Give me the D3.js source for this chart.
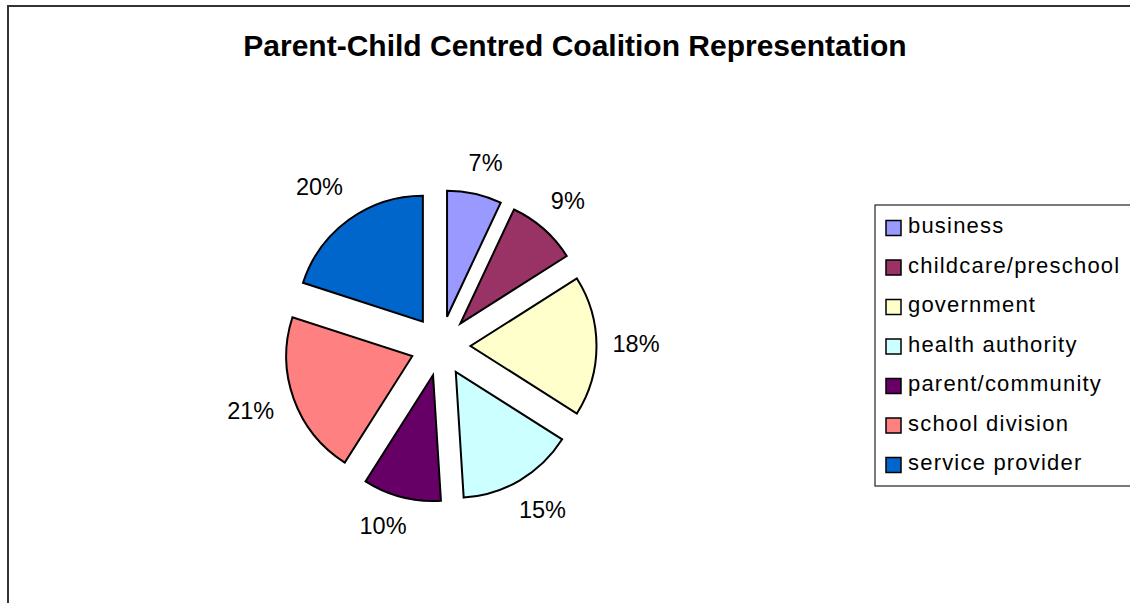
<!DOCTYPE html>
<html>
<head>
<meta charset="utf-8">
<script src="https://cdn.jsdelivr.net/npm/d3@7"></script>
<style>
  html, body { margin: 0; padding: 0; background: #fff; }
  svg { display: block; }
  text { font-family: "Liberation Sans", Arial, sans-serif; }
</style>
</head>
<body>
<svg id="chart" width="1130" height="603"></svg>
<script>
// Share of coalition members by sector (percent)
const categories = ["business", "childcare/preschool", "government", "health authority",
                    "parent/community", "school division", "service provider"];
const shares = [7, 9, 18, 15, 10, 21, 20];
const sliceColors = ["#9999FF", "#993366", "#FFFFCC", "#CCFFFF", "#660066", "#FF8080", "#0066CC"];
const chartTitle = "Parent-Child Centred Coalition Representation";

const W = 1130, H = 603;
const svg = d3.select("#chart");

// outer chart frame (runs off the right and bottom edges)
svg.append("rect")
  .attr("x", 8).attr("y", 6)
  .attr("width", W + 20).attr("height", H + 20)
  .attr("fill", "#fff")
  .attr("stroke", "#333").attr("stroke-width", 2);

// title
svg.append("text")
  .attr("x", 575).attr("y", 56)
  .attr("text-anchor", "middle")
  .attr("font-size", 30).attr("font-weight", "bold")
  .attr("fill", "#000")
  .text(chartTitle);

// exploded pie, clockwise from 12 o'clock
const cx = 440.5, cy = 346;
const radius = 126, explode = 30, labelGap = 174;

const data = categories.map((c, i) => ({ name: c, value: shares[i], color: sliceColors[i] }));
const pie = d3.pie().value(d => d.value).sort(null);
const arcs = pie(data);
const arc = d3.arc().innerRadius(0).outerRadius(radius);
const mid = d => (d.startAngle + d.endAngle) / 2;

const g = svg.append("g").attr("transform", `translate(${cx},${cy})`);

g.selectAll("path.slice")
  .data(arcs)
  .join("path")
  .attr("class", "slice")
  .attr("transform", d => `translate(${explode * Math.sin(mid(d))},${-explode * Math.cos(mid(d))})`)
  .attr("d", arc)
  .attr("fill", d => d.data.color)
  .attr("stroke", "#000")
  .attr("stroke-width", 2)
  .attr("stroke-linejoin", "miter");

// percentage labels: the label box sits just outside the slice along its
// mid-angle; labels near the top/bottom are nudged away from the vertical axis
const labels = g.selectAll("text.pct")
  .data(arcs)
  .join("text")
  .attr("class", "pct")
  .attr("text-anchor", "middle")
  .attr("dominant-baseline", "central")
  .attr("font-size", 23.5)
  .attr("fill", "#000")
  .text(d => d.data.value + "%");

labels.each(function(d) {
  const a = mid(d);
  const s = Math.sin(a), c = Math.cos(a);
  const hw = this.getComputedTextLength() / 2, hh = 8;
  const r = labelGap + hw * Math.abs(s) + hh * Math.abs(c);
  const push = Math.sign(s) * hw * 0.5 * (1 - Math.abs(s));
  d3.select(this)
    .attr("x", r * s + push - 2)
    .attr("y", -r * c - 2);
});

// legend
const legX = 875, legY = 205, rowH = 39.5;
svg.append("rect")
  .attr("x", legX).attr("y", legY)
  .attr("width", 300).attr("height", 281)
  .attr("fill", "#fff")
  .attr("stroke", "#222").attr("stroke-width", 1.2);

const rows = svg.append("g").selectAll("g.row")
  .data(data)
  .join("g")
  .attr("class", "row")
  .attr("transform", (d, i) => `translate(${legX}, ${legY + 28 + i * rowH})`);

rows.append("rect")
  .attr("x", 11).attr("y", -12.5)
  .attr("width", 15).attr("height", 15)
  .attr("fill", d => d.color)
  .attr("stroke", "#000").attr("stroke-width", 1.5);

rows.append("text")
  .attr("x", 33).attr("y", 0)
  .attr("font-size", 22)
  .attr("letter-spacing", 1.2)
  .attr("fill", "#000")
  .text(d => d.name);
</script>
</body>
</html>
